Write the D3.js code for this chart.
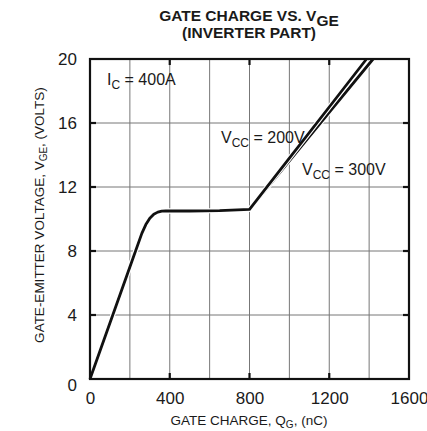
<!DOCTYPE html>
<html><head><meta charset="utf-8">
<script src="https://cdn.jsdelivr.net/npm/d3@7"></script>
<style>body{margin:0;background:#fff}svg{display:block;font-family:"Liberation Sans",Arial,sans-serif}</style>
</head><body><svg id="c" width="427" height="431"></svg>
<script>
// Data
const xTicks = [0, 400, 800, 1200, 1600];
const yTicks = [0, 4, 8, 12, 16, 20];
const xGrid = [200, 400, 600, 800, 1000, 1200, 1400];
const yGrid = [4, 8, 12, 16];
const q200 = [0, 100, 200, 260, 280, 300, 320, 340, 360, 380, 500, 650, 800, 1000, 1200, 1387];
const v200 = [0, 3.5, 7.0, 9.1, 9.65, 10.05, 10.3, 10.43, 10.49, 10.5, 10.5, 10.52, 10.6, 13.8, 17.0, 20];
const q300 = [0, 100, 200, 260, 280, 300, 320, 340, 360, 380, 500, 650, 800, 1000, 1200, 1420];
const v300 = [0, 3.5, 7.0, 9.1, 9.65, 10.05, 10.3, 10.43, 10.49, 10.5, 10.5, 10.52, 10.6, 13.63, 16.66, 20];

const svg = d3.select("#c");
const L = 90, R = 409, T = 59, B = 379;
const x = d3.scaleLinear().domain([0, 1600]).range([L, R]);
const y = d3.scaleLinear().domain([0, 20]).range([B, T]);

// grid
svg.append("g").selectAll("line").data(xGrid).join("line")
  .attr("x1", d => x(d)).attr("x2", d => x(d)).attr("y1", T).attr("y2", B)
  .attr("stroke", "#777").attr("stroke-width", 1);
svg.append("g").selectAll("line").data(yGrid).join("line")
  .attr("y1", d => y(d)).attr("y2", d => y(d)).attr("x1", L).attr("x2", R)
  .attr("stroke", "#777").attr("stroke-width", 1);

// inner ticks
const tk = 6;
const innerX = xTicks.slice(1, -1), innerY = yTicks.slice(1, -1);
const tg = svg.append("g").attr("stroke", "#111").attr("stroke-width", 2.2);
innerX.forEach(d => {
  tg.append("line").attr("x1", x(d)).attr("x2", x(d)).attr("y1", B).attr("y2", B - tk);
  tg.append("line").attr("x1", x(d)).attr("x2", x(d)).attr("y1", T).attr("y2", T + tk);
});
innerY.forEach(d => {
  tg.append("line").attr("y1", y(d)).attr("y2", y(d)).attr("x1", L).attr("x2", L + tk);
  tg.append("line").attr("y1", y(d)).attr("y2", y(d)).attr("x1", R).attr("x2", R - tk);
});

// curves
const line = d3.line().x(d => x(d[0])).y(d => y(d[1])).curve(d3.curveLinear);
const s300 = q300.map((q, i) => [q, v300[i]]);
const s200 = q200.map((q, i) => [q, v200[i]]);
const cg = svg.append("g").attr("fill", "none").attr("stroke-linejoin", "round");
[s300, s200].forEach(s => {
  cg.append("path").attr("d", line(s)).attr("stroke", "#fff").attr("stroke-width", 4.8);
  cg.append("path").attr("d", line(s)).attr("stroke", "#111").attr("stroke-width", 2.8);
});

// frame
svg.append("rect").attr("x", L).attr("y", T).attr("width", R - L).attr("height", B - T)
  .attr("fill", "none").attr("stroke", "#111").attr("stroke-width", 2.2);

// axes labels via d3 axis
const xa = svg.append("g").attr("transform", `translate(0,${B})`)
  .call(d3.axisBottom(x).tickValues(xTicks).tickSize(0).tickPadding(13).tickFormat(d3.format("d")));
xa.select(".domain").remove();
xa.selectAll("text").attr("font-size", 17).attr("fill", "#1a1a1a").attr("font-family", "Liberation Sans, Arial, sans-serif");
const ya = svg.append("g").attr("transform", `translate(${L},0)`)
  .call(d3.axisLeft(y).tickValues(yTicks).tickSize(0).tickPadding(13).tickFormat(d3.format("d")));
ya.select(".domain").remove();
ya.selectAll("text").attr("font-size", 17).attr("fill", "#1a1a1a").attr("font-family", "Liberation Sans, Arial, sans-serif");
ya.selectAll(".tick").filter(d => d === 0).select("text").attr("dy", "0.65em");

// titles
const title = svg.append("text").attr("text-anchor", "middle").attr("font-weight", "bold")
  .attr("font-size", 15.5).attr("fill", "#1a1a1a");
const t1 = title.append("tspan").attr("x", 249).attr("y", 21);
t1.append("tspan").text("GATE CHARGE VS. V");
t1.append("tspan").attr("dy", 5).text("GE");
title.append("tspan").attr("x", 249).attr("y", 38).text("(INVERTER PART)");

const xt = svg.append("text").attr("x", 249).attr("y", 425).attr("text-anchor", "middle")
  .attr("font-size", 13.5).attr("fill", "#1a1a1a");
xt.append("tspan").text("GATE CHARGE, Q");
xt.append("tspan").attr("font-size", 10).attr("dy", 3).text("G");
xt.append("tspan").attr("dy", -3).text(", (nC)");

const yt = svg.append("text").attr("transform", "translate(44,215) rotate(-90)").attr("text-anchor", "middle")
  .attr("font-size", 13.5).attr("fill", "#1a1a1a");
yt.append("tspan").text("GATE-EMITTER VOLTAGE, V");
yt.append("tspan").attr("font-size", 10).attr("dy", 3).text("GE");
yt.append("tspan").attr("dy", -3).text(", (VOLTS)");

// annotations
function ann(xp, yp, main, sub, rest) {
  const t = svg.append("text").attr("x", xp).attr("y", yp).attr("font-size", 16).attr("fill", "#1a1a1a");
  t.append("tspan").text(main);
  t.append("tspan").attr("font-size", 12).attr("dy", 4).text(sub);
  t.append("tspan").attr("dy", -4).text(rest);
}
ann(107, 85, "I", "C", " = 400A");
ann(221, 143, "V", "CC", " = 200V");
ann(302, 175, "V", "CC", " = 300V");
</script></body></html>
